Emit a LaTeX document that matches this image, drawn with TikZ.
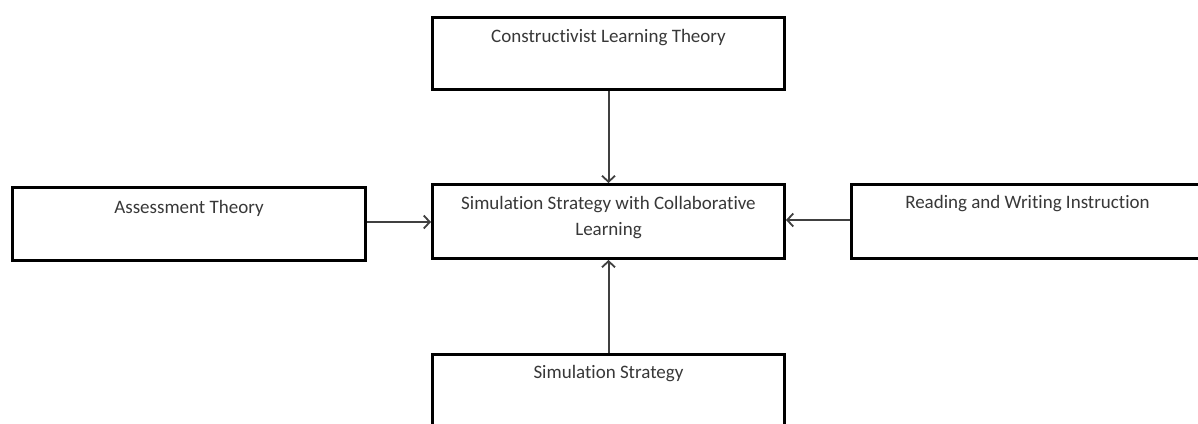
\documentclass[tikz,border=0pt]{standalone}
\usepackage{fontspec}
\setmainfont{Carlito}[Ligatures={NoCommon}]
\usetikzlibrary{arrows.meta}
\tikzset{
  box/.style={draw=black, line width=3pt, fill=white, inner sep=0pt, anchor=north west},
  lbl/.style={font=\fontsize{19}{26}\selectfont, text=black!78, inner sep=0pt, align=center},
  conn/.style={draw=black!75, line width=2pt, -{Straight Barb[length=6pt,width=13pt,line width=1.8pt]}}
}
\begin{document}
\begin{tikzpicture}[x=1pt,y=-1pt]
\useasboundingbox (0,0) rectangle (1198,423);
\fill[white] (0,0) rectangle (1198,423);
\clip (0,0) rectangle (1198,423);
% boxes
\node[box, minimum width=352pt, minimum height=72pt] (top) at (431,16) {};
\node[box, minimum width=353pt, minimum height=73pt] (left) at (11,186) {};
\node[box, minimum width=352pt, minimum height=74pt] (center) at (431,183) {};
\node[box, minimum width=352pt, minimum height=74pt] (right) at (850,183) {};
\node[box, minimum width=352pt, minimum height=100pt] (bottom) at (431,353) {};
% texts
\node[lbl] (ttop) at ([yshift=-22pt]top.north) {Constructivist Learning Theory};
\node[lbl] (tleft) at ([yshift=-22pt]left.north) {Assessment Theory};
\node[lbl, anchor=north] (tcenter) at ([yshift=-13pt]center.north) {Simulation Strategy with Collaborative\\Learning};
\node[lbl] (tright) at ([yshift=-21pt]right.north) {Reading and Writing Instruction};
\node[lbl] (tbottom) at ([yshift=-21pt]bottom.north) {Simulation Strategy};
% connectors
\coordinate (lA) at (left.east |- 0,222);
\coordinate (rA) at (right.west |- 0,220);
\draw[conn] (top.south) -- (center.north);
\draw[conn] (bottom.north) -- (center.south);
\draw[conn] (lA) -- (center.west |- lA);
\draw[conn] (rA) -- (center.east |- rA);
\end{tikzpicture}
\end{document}
